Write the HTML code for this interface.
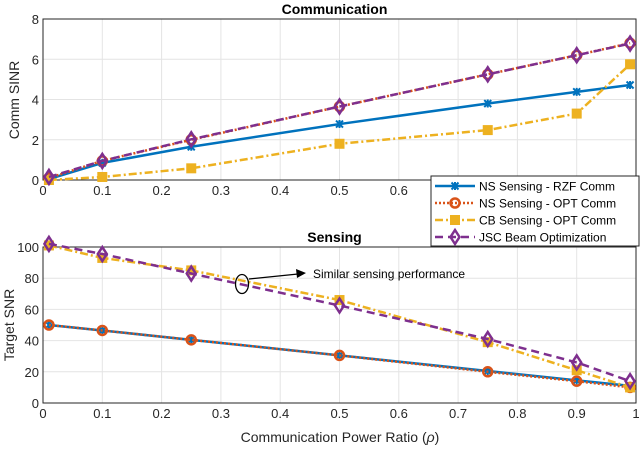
<!DOCTYPE html>
<html><head><meta charset="utf-8"><style>
body{margin:0;background:#fff}
svg text{font-family:"Liberation Sans",sans-serif}
</style></head><body>
<svg width="640" height="451" viewBox="0 0 640 451" xmlns="http://www.w3.org/2000/svg" id="chart">
<g id="g"></g>
</svg>
<script>
const xs=[0.01,0.1,0.25,0.5,0.75,0.9,0.99];
const commRZF=[0.05,0.85,1.65,2.78,3.8,4.38,4.72];
const commNSOPT=[0.1,0.95,2.0,3.65,5.25,6.2,6.8];
const commCB=[0,0.15,0.58,1.8,2.48,3.3,5.75];
const commJSC=[0.15,0.95,2.02,3.65,5.25,6.2,6.78];
const sensRZF=[50,46.5,40.5,30.5,20.5,14.5,11];
const sensNSOPT=[50,46.5,40.5,30.5,20,14,10];
const sensCB=[101,93,85,66,39,21,10];
const sensJSC=[102,95.5,83,62.5,41,26,14];
const xTicks=[0,0.1,0.2,0.3,0.4,0.5,0.6,0.7,0.8,0.9,1];
const commTicks=[0,2,4,6,8];
const sensTicks=[0,20,40,60,80,100];
const legendLabels=["NS Sensing - RZF Comm","NS Sensing - OPT Comm","CB Sensing - OPT Comm","JSC Beam Optimization"];

const NS="http://www.w3.org/2000/svg";
const g=document.getElementById('g');
function el(t,a,p){const e=document.createElementNS(NS,t);for(const k in a)e.setAttribute(k,a[k]);(p||g).appendChild(e);return e;}
const L=43,R=636;
const sx=v=>L+v*(R-L);
const colors=["#0072BD","#D95319","#EDB120","#7E2F8E"];
const dashes=["none","2,2","8,3,2,3","8,5"];
const widths=[2.5,2.5,2.5,2.5];

function marker(type,x,y,c,parent){
 let m;
 if(type==0){m=el('path',{d:`M${x-3.5},${y-3.5}L${x+3.5},${y+3.5}M${x+3.5},${y-3.5}L${x-3.5},${y+3.5}M${x},${y-4}L${x},${y+4}`,stroke:c,'stroke-width':2,fill:'none'},parent);}
 else if(type==1){m=el('circle',{cx:x,cy:y,r:4.5,fill:'none',stroke:c,'stroke-width':2.5},parent);}
 else if(type==2){m=el('rect',{x:x-4.5,y:y-4.5,width:9,height:9,fill:c,stroke:c,'stroke-width':1},parent);}
 else {m=el('path',{d:`M${x},${y-7}L${x+4.5},${y}L${x},${y+7}L${x-4.5},${y}Z`,fill:'none',stroke:c,'stroke-width':2.5},parent);}
 
 
}

function panel(name,top,bot,ymax,ticks,series,title){
 const sy=v=>bot-v/ymax*(bot-top);
 const pg=el('g',{});
 
 
 el('rect',{x:L,y:top,width:R-L,height:bot-top,fill:'#fff',stroke:'none'},pg);
 xTicks.forEach(t=>{el('line',{x1:sx(t),x2:sx(t),y1:top,y2:bot,stroke:'#e4e4e4','stroke-width':1},pg);
  const tx=el('text',{x:sx(t),y:bot+15,'text-anchor':'middle','font-size':13,fill:'#262626'},pg);tx.textContent=t;
  });
 ticks.forEach(t=>{el('line',{x1:L,x2:R,y1:sy(t),y2:sy(t),stroke:'#e4e4e4','stroke-width':1},pg);
  const tx=el('text',{x:L-4,y:sy(t)+5,'text-anchor':'end','font-size':13,fill:'#262626'},pg);tx.textContent=t;
  });
 el('rect',{x:L,y:top,width:R-L,height:bot-top,fill:'none',stroke:'#262626','stroke-width':1},pg);
 series.forEach((s,i)=>{
  const pts=xs.map((x,j)=>sx(x)+','+sy(s[j])).join(' ');
  const pl=el('polyline',{points:pts,fill:'none',stroke:colors[i],'stroke-width':widths[i],'stroke-dasharray':dashes[i]},pg);
  
  
  xs.forEach((x,j)=>marker(i,sx(x),sy(s[j]),colors[i],pg));
 });
 const tt=el('text',{x:(L+R)/2-5,y:top-5,'text-anchor':'middle','font-size':14,'font-weight':'bold',fill:'#000'},pg);tt.textContent=title;
 
 return sy;
}
panel('comm',19,180,8,commTicks,[commRZF,commNSOPT,commCB,commJSC],'Communication');
const sy2=panel('sensing',247,403,100,sensTicks,[sensRZF,sensNSOPT,sensCB,sensJSC],'Sensing');

let yl=el('text',{x:0,y:0,transform:'translate(19,100) rotate(-90)','text-anchor':'middle','font-size':14,fill:'#262626'});yl.textContent='Comm SINR';

yl=el('text',{x:0,y:0,transform:'translate(14,325) rotate(-90)','text-anchor':'middle','font-size':14,fill:'#262626'});yl.textContent='Target SNR';

const xl=el('text',{x:340,y:442,'text-anchor':'middle','font-size':14,fill:'#262626'});
xl.innerHTML='Communication Power Ratio (<tspan font-style="italic">ρ</tspan>)';


// annotation
const ann=el('g',{});

el('ellipse',{cx:242,cy:284,rx:6.5,ry:9.5,fill:'none',stroke:'#000','stroke-width':1.3},ann);
el('line',{x1:249,y1:279,x2:298,y2:274,stroke:'#000','stroke-width':1.3},ann);
el('path',{d:'M306,273L296,269L297,278Z',fill:'#000'},ann);
const at=el('text',{x:313,y:278,'font-size':12,fill:'#000'},ann);at.textContent='Similar sensing performance';

// legend
const lg=el('g',{});

el('rect',{x:431,y:176,width:208,height:70,fill:'#fff',stroke:'#262626','stroke-width':1},lg);
legendLabels.forEach((lab,i)=>{
 const y=186+i*17;
 const e=el('g',{},lg);
 
 el('line',{x1:435,x2:475,y1:y,y2:y,stroke:colors[i],'stroke-width':2.5,'stroke-dasharray':dashes[i]},e);
 marker(i,455,y,colors[i],e);
 const t=el('text',{x:479,y:y+4.5,'font-size':12,fill:'#000'},e);t.textContent=lab;
});
</script>
</body></html>
